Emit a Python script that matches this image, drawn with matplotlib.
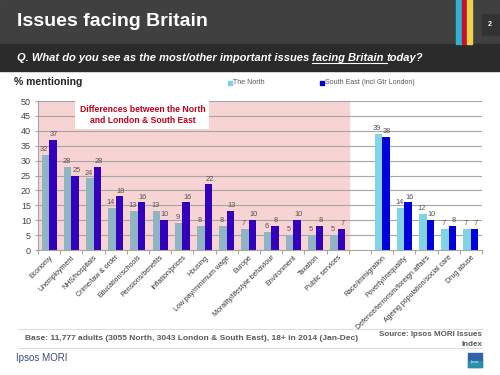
import matplotlib
matplotlib.use('Agg')
import matplotlib.pyplot as plt
from matplotlib.patches import Rectangle
import numpy as np

plt.rcParams['font.family'] = ['Liberation Sans', 'DejaVu Sans']

# Data
diff_issues = ['Economy', 'Unemployment', 'NHS/hospitals', 'Crime/law & order', 'Education/schools',
               'Pensions/benefits', 'Inflation/prices', 'Housing', 'Low pay/minimum wage', 'Europe',
               'Morality/lifestyle behaviour', 'Environment', 'Taxation', 'Public services']
diff_north = [32, 28, 24, 14, 13, 13, 9, 8, 8, 7, 6, 5, 5, 5]
diff_south = [37, 25, 28, 18, 16, 10, 16, 22, 13, 10, 8, 10, 8, 7]

same_issues = ['Race/immigration', 'Poverty/inequality', 'Defence/terrorism/foreign affairs',
               'Ageing population/social care', 'Drug abuse']
same_north = [39, 14, 12, 7, 7]
same_south = [38, 16, 10, 8, 7]

y_ticks = [0, 5, 10, 15, 20, 25, 30, 35, 40, 45, 50]

W, H = 500, 375
fig = plt.figure(figsize=(5, 3.75), dpi=100)
fig.patch.set_facecolor('white')

# page furniture in pixel coordinates
bg = fig.add_axes([0, 0, 1, 1])
bg.set_xlim(0, W)
bg.set_ylim(H, 0)
bg.axis('off')
bg.add_patch(Rectangle((0, 0), W, 44, color='#404040'))
bg.add_patch(Rectangle((0, 44), W, 27, color='#2b2b2b'))
bg.add_patch(Rectangle((456, 0), 6, 44, color='#2bb5d3'))
bg.add_patch(Rectangle((462, 0), 5, 44, color='#c8102e'))
bg.add_patch(Rectangle((467, 0), 5, 44, color='#e9d44c'))
bg.add_patch(Rectangle((482, 14), 18, 21, color='#333333'))
bg.text(488, 24, '2', color='white', fontsize=5, fontweight='bold', va='center')
bg.text(17, 21, 'Issues facing Britain', color='white', fontsize=14, fontweight='bold', va='center')

# subtitle with underlined part
fig.canvas.draw()
renderer = fig.canvas.get_renderer()
parts = ['Q. What do you see as the most/other important issues ', 'facing Britain ', 'today?']
x = 17
sub_style = dict(color='white', fontsize=8, fontweight='bold', style='italic', va='baseline')
for i, p in enumerate(parts):
    t = bg.text(x, 61, p, **sub_style)
    bb = t.get_window_extent(renderer=renderer)
    x0 = x
    x = x + bb.width
    if i == 1:
        bg.plot([x0, x], [63, 63], color='white', lw=0.8)

bg.text(14, 82, '% mentioning', color='#222222', fontsize=7.5, fontweight='bold', va='center')
bg.add_patch(Rectangle((228, 80.5), 4, 4, color='#7fd0e0'))
bg.text(233, 83, 'The North', color='#555555', fontsize=5, va='center')
bg.add_patch(Rectangle((320, 80.5), 4, 4, color='#0000cc'))
bg.text(325, 83, 'South East (incl Gtr London)', color='#555555', fontsize=5, va='center')

# footer
bg.plot([18, 482], [329, 329], color='#dddddd', lw=0.8)
bg.plot([18, 482], [348, 348], color='#dddddd', lw=0.8)
bg.text(25, 339, 'Base: 11,777 adults (3055 North, 3043 London & South East), 18+ in 2014 (Jan-Dec)',
        color='#595959', fontsize=6, fontweight='bold', va='center')
bg.text(482, 335, 'Source: Ipsos MORI Issues', color='#595959', fontsize=5.8, fontweight='bold',
        ha='right', va='center')
bg.text(482, 344, 'Index', color='#595959', fontsize=5.8, fontweight='bold', ha='right', va='center')
bg.text(16, 358, 'Ipsos MORI', color='#3c4a80', fontsize=7, va='center')
bg.add_patch(Rectangle((468, 353), 14, 14, color='#2f62a8'))
bg.add_patch(Rectangle((468, 361), 14, 6, color='#2a8fa8'))
bg.text(475, 362, 'Ipsos', color='white', fontsize=2.5, ha='center', va='center')

# chart
ax = fig.add_axes([38 / W, (H - 250) / H, 444 / W, 149 / H])
n_diff = len(diff_issues)
n_same = len(same_issues)
n_slots = n_diff + 1 + n_same
ax.set_xlim(0, n_slots)
ax.set_ylim(0, 50)
ax.set_facecolor('none')
ax.axvspan(0, n_diff, color='#f7d3d3', zorder=0)
ax.set_yticks(y_ticks)
ax.yaxis.grid(True, color='#a6a6a6', lw=0.8, zorder=1)
ax.set_axisbelow(True)

bw = 0.34
pos_diff = np.arange(n_diff) + 0.5
pos_same = np.arange(n_same) + n_diff + 1.5

groups = [(pos_diff, diff_north, diff_south, '#8fb4c4', '#3300bb'),
          (pos_same, same_north, same_south, '#80d4e4', '#0000dd')]
for pos, north, south, c_n, c_s in groups:
    ax.bar(pos - bw / 2, north, bw, color=c_n, zorder=2)
    ax.bar(pos + bw / 2, south, bw, color=c_s, zorder=2)
    for p, v in zip(pos, north):
        ax.text(p - bw / 2 - 0.05, v + 0.6, str(v), fontsize=5.3, color='#555555', ha='center', va='bottom')
    for p, v in zip(pos, south):
        ax.text(p + bw / 2 + 0.05, v + 0.6, str(v), fontsize=5.3, color='#555555', ha='center', va='bottom')

for s in ['top', 'right']:
    ax.spines[s].set_visible(False)
for s in ['left', 'bottom']:
    ax.spines[s].set_color('#a6a6a6')
    ax.spines[s].set_linewidth(0.8)

ax.set_xticks(np.arange(n_slots + 1))
ax.set_xticklabels([])
ax.tick_params(axis='x', which='major', length=3, color='#a6a6a6')
ax.set_xticks(list(pos_diff) + list(pos_same), minor=True)
ax.set_xticklabels(diff_issues + same_issues, minor=True, rotation=45, ha='right',
                   rotation_mode='anchor', fontsize=5, color='#333333')
ax.tick_params(axis='x', which='minor', length=0, pad=3)
ax.tick_params(axis='y', length=2, color='#a6a6a6', labelsize=6.5, labelcolor='#444444', pad=3)

ax.text(4.7, 45.3, 'Differences between the North\nand London & South East',
        ha='center', va='center', fontsize=6.2, fontweight='bold', color='#c0001a', linespacing=1.3,
        bbox=dict(facecolor='white', edgecolor='none', pad=3), zorder=3)

fig.savefig('out.png', dpi=100)
